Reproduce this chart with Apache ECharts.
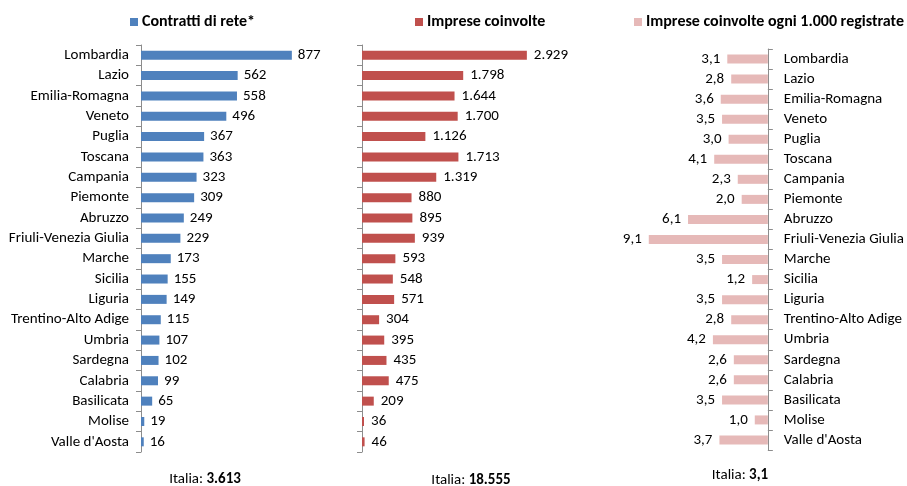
<!DOCTYPE html>
<html><head><meta charset="utf-8">
<script src="https://cdn.jsdelivr.net/npm/echarts@6/dist/echarts.min.js"></script>
<style>html,body{margin:0;padding:0;background:#fff}#c{width:907px;height:486px}</style>
</head><body><div id="c"></div>
<script>
const regions = ["Lombardia","Lazio","Emilia-Romagna","Veneto","Puglia","Toscana","Campania","Piemonte","Abruzzo","Friuli-Venezia Giulia","Marche","Sicilia","Liguria","Trentino-Alto Adige","Umbria","Sardegna","Calabria","Basilicata","Molise","Valle d'Aosta"];
const contratti = [877,562,558,496,367,363,323,309,249,229,173,155,149,115,107,102,99,65,19,16];
const imprese = [2929,1798,1644,1700,1126,1713,1319,880,895,939,593,548,571,304,395,435,475,209,36,46];
const ogni1000 = [3.1,2.8,3.6,3.5,3.0,4.1,2.3,2.0,6.1,9.1,3.5,1.2,3.5,2.8,4.2,2.6,2.6,3.5,1.0,3.7];
const seriesNames = ["Contratti di rete*","Imprese coinvolte","Imprese coinvolte ogni 1.000 registrate"];
const totals = ["3.613","18.555","3,1"];

const FONT = "Carlito, Calibri, Lato, sans-serif";
const FS = 15;
const fmtInt = v => String(v).replace(/\B(?=(\d{3})+(?!\d))/g, ".");
const fmtDec = v => v.toFixed(1).replace(".", ",");
const colors = ["#4F81BD","#C0504D","#E6B9B8"];

const grids = [
  {left:141, top:45, width:172, height:407},
  {left:362, top:45, width:197, height:407},
  {left:637, top:49, width:137, height:401}
];
const catAxis = (i, pos, off) => ({
  type:'category', gridIndex:i, data:regions, inverse:true, position:pos, offset:off,
  axisLine:{lineStyle:{color:'#8c8c8c'}},
  axisTick:{show:true, length:5, lineStyle:{color:'#8c8c8c'}},
  axisLabel:{show: i!==1, color:'#000', fontSize:FS, fontFamily:FONT, margin: pos==='right'?15:9}
});
const valAxis = (i, max, inv) => ({
  type:'value', gridIndex:i, min:0, max:max, inverse:!!inv,
  show:false, splitLine:{show:false}
});
const legendText = {fontWeight:'bold', fontSize:16, fontFamily:FONT, color:'#000', padding:[0,0,0,-1]};
const chart = echarts.init(document.getElementById('c'));
chart.setOption({
  animation:false,
  textStyle:{fontFamily:FONT},
  grid:grids,
  xAxis:[valAxis(0,1000), valAxis(1,3500), valAxis(2,10,true)],
  yAxis:[catAxis(0,'left',3), catAxis(1,'left',3), catAxis(2,'right',1)],
  legend:[
    {data:[seriesNames[0]], left:125, top:9, icon:'rect', itemWidth:8, itemHeight:8, textStyle:legendText},
    {data:[seriesNames[1]], left:410, top:9, icon:'rect', itemWidth:8, itemHeight:8, textStyle:legendText},
    {data:[seriesNames[2]], left:629, top:9, icon:'rect', itemWidth:8, itemHeight:8, textStyle:legendText}
  ],
  series:[
    {name:seriesNames[0], type:'bar', xAxisIndex:0, yAxisIndex:0, data:contratti, barWidth:9,
     itemStyle:{color:colors[0]},
     label:{show:true, position:'right', distance:6, fontSize:FS, color:'#000', fontFamily:FONT, formatter:p=>fmtInt(p.value)}},
    {name:seriesNames[1], type:'bar', xAxisIndex:1, yAxisIndex:1, data:imprese, barWidth:9,
     itemStyle:{color:colors[1]},
     label:{show:true, position:'right', distance:7, fontSize:FS, color:'#000', fontFamily:FONT, formatter:p=>fmtInt(p.value)}},
    {name:seriesNames[2], type:'bar', xAxisIndex:2, yAxisIndex:2, data:ogni1000, barWidth:9,
     itemStyle:{color:colors[2]},
     label:{show:true, position:'left', distance:7, fontSize:FS, color:'#000', fontFamily:FONT, formatter:p=>fmtDec(p.value)}}
  ],
  graphic:[
    {type:'text', x:205, y:479, style:{text:'Italia: {b|'+totals[0]+'}', textAlign:'center', textVerticalAlign:'middle', font:FS+'px '+FONT, fill:'#000', rich:{b:{fontWeight:'bold', fontSize:FS, fontFamily:FONT}}}},
    {type:'text', x:471, y:480, style:{text:'Italia: {b|'+totals[1]+'}', textAlign:'center', textVerticalAlign:'middle', font:FS+'px '+FONT, fill:'#000', rich:{b:{fontWeight:'bold', fontSize:FS, fontFamily:FONT}}}},
    {type:'text', x:740, y:475, style:{text:'Italia: {b|'+totals[2]+'}', textAlign:'center', textVerticalAlign:'middle', font:FS+'px '+FONT, fill:'#000', rich:{b:{fontWeight:'bold', fontSize:FS, fontFamily:FONT}}}}
  ]
});
</script></body></html>
